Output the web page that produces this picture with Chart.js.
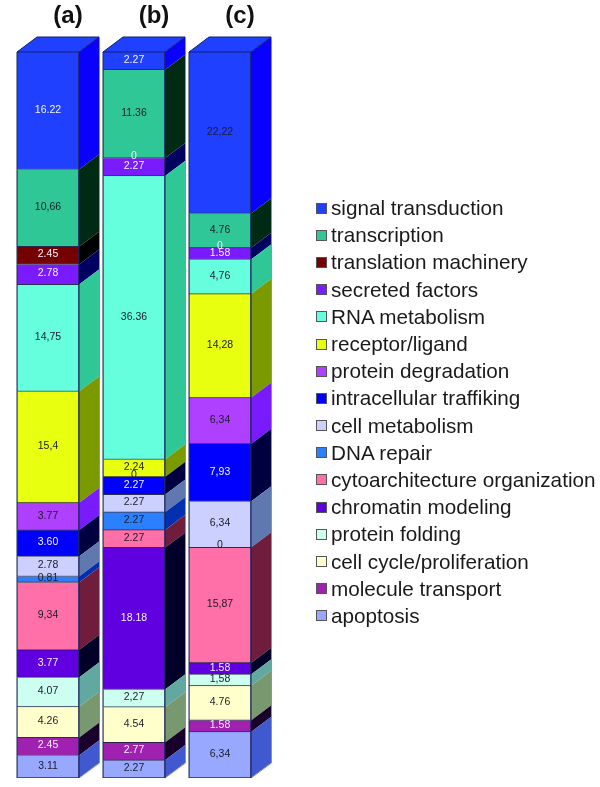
<!DOCTYPE html>
<html>
<head>
<meta charset="utf-8">
<title>Functional categories</title>
<script src="https://cdn.jsdelivr.net/npm/chart.js@4/dist/chart.umd.js"></script>
<style>
  html, body { margin: 0; padding: 0; background: #fff; }
  #wrap { position: relative; width: 600px; height: 787px; overflow: hidden; }
  #legend { position: absolute; left: 316px; top: 194.5px; font: 20.7px "Liberation Sans", Arial, sans-serif; color: #1a1a1a; }
  #legend .row { display: flex; align-items: center; height: 27.2px; white-space: nowrap; }
  #legend .box { width: 9px; height: 9px; border: 1px solid #555; margin-right: 4px; flex: none; }
</style>
</head>
<body>
<div id="wrap">
  <canvas id="chart" width="600" height="787"></canvas>
  <div id="legend"></div>
</div>
<script>
const columns = ["(a)", "(b)", "(c)"];
const categories = [
  "signal transduction", "transcription", "translation machinery", "secreted factors",
  "RNA metabolism", "receptor/ligand", "protein degradation", "intracellular traffiking",
  "cell metabolism", "DNA repair", "cytoarchitecture organization", "chromatin modeling",
  "protein folding", "cell cycle/proliferation", "molecule transport", "apoptosis"
];

const valuesA = [16.22, 10.66, 2.45, 2.78, 14.75, 15.4, 3.77, 3.6, 2.78, 0.81, 9.34, 3.77, 4.07, 4.26, 2.45, 3.11];
// molecule transport in (b) is printed 2.77 but drawn the same height as the 2.27 cells
const valuesB = [2.27, 11.36, 0, 2.27, 36.36, 2.24, 0, 2.27, 2.27, 2.27, 2.27, 18.18, 2.27, 4.54, 2.27, 2.27];
const valuesC = [22.22, 4.76, 0, 1.58, 4.76, 14.28, 6.34, 7.93, 6.34, 0, 15.87, 1.58, 1.58, 4.76, 1.58, 6.34];

// text as printed, decimal commas included
const textA = ["16.22", "10,66", "2.45", "2.78", "14,75", "15,4", "3.77", "3.60", "2.78", "0.81", "9,34", "3.77", "4.07", "4.26", "2.45", "3.11"];
const textB = ["2.27", "11.36", "0", "2.27", "36.36", "2.24", "0", "2.27", "2.27", "2.27", "2.27", "18.18", "2,27", "4.54", "2.77", "2.27"];
const textC = ["22,22", "4.76", "0", "1.58", "4,76", "14,28", "6,34", "7,93", "6,34", "0", "15,87", "1.58", "1,58", "4.76", "1.58", "6,34"];

const frontColors = [
  "#2040ff", "#2ec795", "#750000", "#7a1aff", "#66ffdd", "#e8ff10", "#b040ff", "#0000ff",
  "#ccd0ff", "#2a80ff", "#ff70a8", "#6000e0", "#ccfff0", "#ffffcc", "#a020b0", "#98a8ff"
];
const sideColors = [
  "#0a00ff", "#012a14", "#000000", "#000060", "#2ec795", "#7a9a00", "#7a1aff", "#000040",
  "#6078b0", "#0030b0", "#701c3c", "#000028", "#60a8a0", "#789870", "#18002a", "#4058d0"
];
const whiteText = [2, 3, 7, 11, 14];

const allValues = [valuesA, valuesB, valuesC];
const allText = [textA, textB, textC];
const totals = allValues.map(col => col.reduce((s, v) => s + v, 0));

const DEPTH_X = 20;
const DEPTH_Y = 15;

// fake 3D: side faces, top face, cell labels and column titles
const box3d = {
  id: "box3d",
  afterDatasetsDraw(chart) {
    const ctx = chart.ctx;
    const metas = chart.getSortedVisibleDatasetMetas();
    ctx.save();

    columns.forEach((name, c) => {
      const first = metas[0].data[c];
      const x1 = first.x - first.width / 2;
      const x2 = first.x + first.width / 2;
      const top = chart.scales.y.getPixelForValue(0);
      const bottom = chart.scales.y.getPixelForValue(100);

      metas.forEach((meta, i) => {
        const el = meta.data[c];
        const y1 = Math.min(el.y, el.base);
        const y2 = Math.max(el.y, el.base);
        if (y2 - y1 < 0.01) return;
        ctx.fillStyle = sideColors[i];
        ctx.beginPath();
        ctx.moveTo(x2, y1);
        ctx.lineTo(x2 + DEPTH_X, y1 - DEPTH_Y);
        ctx.lineTo(x2 + DEPTH_X, y2 - DEPTH_Y);
        ctx.lineTo(x2, y2);
        ctx.closePath();
        ctx.fill();
      });

      ctx.fillStyle = frontColors[0];
      ctx.strokeStyle = "#10206a";
      ctx.lineWidth = 1;
      ctx.beginPath();
      ctx.moveTo(x1, top);
      ctx.lineTo(x1 + DEPTH_X, top - DEPTH_Y);
      ctx.lineTo(x2 + DEPTH_X, top - DEPTH_Y);
      ctx.lineTo(x2, top);
      ctx.closePath();
      ctx.fill();
      ctx.stroke();

      // outer edges
      ctx.strokeStyle = "#8a94a6";
      ctx.beginPath();
      ctx.moveTo(x2 + DEPTH_X + 0.5, top - DEPTH_Y);
      ctx.lineTo(x2 + DEPTH_X + 0.5, bottom - DEPTH_Y);
      ctx.lineTo(x2, bottom);
      ctx.moveTo(x1 - 0.5, top);
      ctx.lineTo(x1 - 0.5, bottom);
      ctx.stroke();
      ctx.strokeStyle = "#10206a";
      ctx.beginPath();
      ctx.moveTo(x2, top);
      ctx.lineTo(x2, bottom);
      ctx.stroke();

      // cell labels
      ctx.font = '10.5px "Liberation Sans", Arial, sans-serif';
      ctx.textAlign = "center";
      ctx.textBaseline = "middle";
      metas.forEach((meta, i) => {
        const el = meta.data[c];
        const isWhite = whiteText.includes(i) || (i === 0 && c < 2);
        ctx.fillStyle = isWhite ? "#f2f2ff" : "#1c1c28";
        const shift = allValues[c][i] === 0 ? -2 : -1;
        ctx.fillText(allText[c][i], el.x, (el.y + el.base) / 2 + shift);
      });

      // column title
      ctx.font = 'bold 24px "Liberation Sans", Arial, sans-serif';
      ctx.fillStyle = "#111";
      ctx.fillText(name, first.x + DEPTH_X, 16);
    });
    ctx.restore();
  }
};

new Chart(document.getElementById("chart"), {
  type: "bar",
  data: {
    labels: columns,
    datasets: categories.map((name, i) => ({
      label: name,
      data: allValues.map((col, c) => col[i] / totals[c] * 100),
      backgroundColor: frontColors[i],
      borderColor: "rgba(10,10,50,0.85)",
      borderWidth: 1,
      barThickness: 62
    }))
  },
  options: {
    responsive: false,
    animation: false,
    layout: { padding: { left: 5, right: 337, top: 52, bottom: 9 } },
    plugins: { legend: { display: false }, tooltip: { enabled: false } },
    scales: {
      x: { stacked: true, display: false },
      y: { stacked: true, display: false, reverse: true, min: 0, max: 100 }
    }
  },
  plugins: [box3d]
});

const legend = document.getElementById("legend");
categories.forEach((name, i) => {
  const row = document.createElement("div");
  row.className = "row";
  const box = document.createElement("span");
  box.className = "box";
  box.style.background = frontColors[i];
  const text = document.createElement("span");
  text.textContent = name;
  row.append(box, text);
  legend.append(row);
});
</script>
</body>
</html>
